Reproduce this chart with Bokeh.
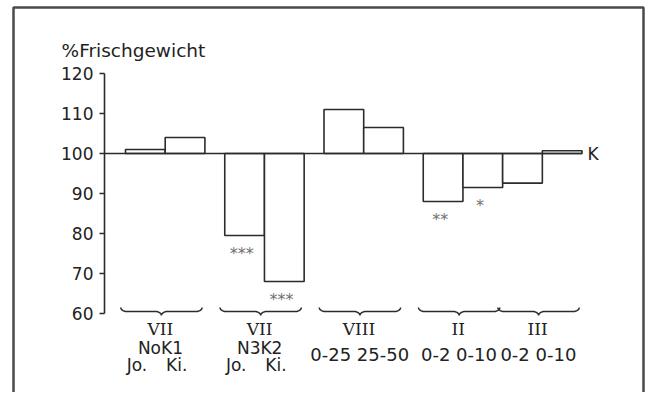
import numpy as np
from bokeh.plotting import figure
from bokeh.models import Range1d, FixedTicker
from bokeh.core.properties import value
from bokeh.embed import file_html
from bokeh.resources import INLINE

# ---------------- data ----------------
bar_values = [101, 104, 79.5, 68, 111, 106.5, 88, 91.5, 92.6, 100.7]
bar_group = [0, 0, 1, 1, 2, 2, 3, 3, 4, 4]
bar_sublabels = ["Jo.", "Ki.", "Jo.", "Ki.", "0-25", "25-50", "0-2", "0-10", "0-2", "0-10"]
significance = ["", "", "***", "***", "", "", "**", "*", "", ""]
group_numerals = ["VII", "VII", "VIII", "II", "III"]
group_treatments = ["NoK1", "N3K2", "", "", ""]
y_ticks = [60, 70, 80, 90, 100, 110, 120]
y_title = "%Frischgewicht"
control_value = 100
control_label = "K"

# ---------------- layout ----------------
W, H = 645, 392
px_per_x = 39.7
px_per_y = 4.0
x0_canvas = 125          # canvas x of data x = 0
yc_canvas = 153          # canvas y of the control value
group_gap = [0.0, 0.5, 0.5, 0.5, 0.0]

x_start = -x0_canvas / px_per_x
x_end = x_start + W / px_per_x
y_end = control_value + yc_canvas / px_per_y
y_start = y_end - H / px_per_y

# bar positions
lefts = []
offset = 0.0
prev_g = -1
for i, g in enumerate(bar_group):
    if g != prev_g:
        offset += group_gap[g]
        prev_g = g
    lefts.append(i + offset)
rights = [l + 1 for l in lefts]
bottoms = [min(v, control_value) for v in bar_values]
tops = [max(v, control_value) for v in bar_values]

axis_x = -0.53
ink = "#2b2b2b"
txt_col = "#222222"
font = value("DejaVu Sans")

p = figure(width=W, height=H, output_backend="svg", toolbar_location=None,
           x_range=Range1d(x_start, x_end), y_range=Range1d(y_start, y_end),
           min_border=0, outline_line_color=None, background_fill_color="white")
p.xaxis.visible = False
p.xgrid.grid_line_color = None
p.ygrid.grid_line_color = None

ax = p.yaxis[0]
ax.fixed_location = axis_x
ax.ticker = FixedTicker(ticks=y_ticks)
ax.bounds = (min(y_ticks), max(y_ticks))
ax.axis_line_color = ink
ax.axis_line_width = 1.6
ax.major_tick_line_color = ink
ax.major_tick_line_width = 1.6
ax.major_tick_out = 5
ax.major_tick_in = 0
ax.minor_tick_line_color = None
ax.major_label_standoff = 6
ax.major_label_text_font = "DejaVu Sans"
ax.major_label_text_font_size = "17px"
ax.major_label_text_color = txt_col

# outer frame (open at the bottom)
fl = x_start + 13 / px_per_x
fr = x_start + 643 / px_per_x
ft = y_end - 7 / px_per_y
p.line([fl, fl, fr, fr], [y_start - 2, ft, ft, y_start - 2], line_color="#4a4a4a", line_width=2.5)

# bars
p.quad(left=lefts, right=rights, bottom=bottoms, top=tops,
       fill_color="white", line_color=ink, line_width=1.6)

# control line
p.segment(x0=[axis_x], y0=[control_value], x1=[max(rights)], y1=[control_value],
          line_color=ink, line_width=1.6)
p.text(x=[max(rights) + 0.14], y=[control_value], text=[control_label],
       text_font=font, text_font_size="17px", text_align="left",
       text_baseline="middle", text_color=txt_col)

# title
p.text(x=[axis_x - 1.08], y=[control_value + 25.75], text=[y_title],
       text_font=font, text_font_size="18.5px", text_align="left",
       text_baseline="middle", text_color=txt_col)

# significance stars
sx, sy, st = [], [], []
for l, r, v, s in zip(lefts, rights, bar_values, significance):
    if s:
        sx.append((l + r) / 2 - 0.07)
        sy.append(v - 4.5)
        st.append(s)
p.text(x=sx, y=sy, text=st, text_font=font, text_font_size="16px",
       text_align="center", text_baseline="middle", text_color="#707070")

# braces
def brace(xa, xb, ymid=60.5, dy=1.0, r=0.15):
    xc = (xa + xb) / 2
    t = np.linspace(0, np.pi / 2, 8)
    x1 = xa + r - r * np.cos(t); y1 = ymid + dy - dy * np.sin(t)
    x2 = xc - r + r * np.sin(t); y2 = ymid - dy + dy * np.cos(t)
    x3 = xc + r - r * np.sin(t[::-1]); y3 = ymid - dy + dy * np.cos(t[::-1])
    x4 = (xb - r + r * np.cos(t))[::-1]; y4 = (ymid + dy - dy * np.sin(t))[::-1]
    return list(np.concatenate([x1, x2, x3, x4])), list(np.concatenate([y1, y2, y3, y4]))

bxs, bys = [], []
serif_x, serif_y, serif_t = [], [], []
sans_x, sans_y, sans_t = [], [], []
rng_x, rng_y, rng_t = [], [], []
for g in range(len(group_numerals)):
    idx = [i for i, gg in enumerate(bar_group) if gg == g]
    gl = lefts[idx[0]]; gr = rights[idx[-1]]
    xs, ys = brace(gl - 0.12, gr - 0.07)
    bxs.append(xs); bys.append(ys)
    gc = (gl + gr) / 2 - 0.12
    serif_x.append(gc); serif_y.append(56.1); serif_t.append(group_numerals[g])
    if group_treatments[g]:
        sans_x.append(gc); sans_y.append(51.5); sans_t.append(group_treatments[g])
        for i in idx:
            sans_x.append((lefts[i] + rights[i]) / 2 - 0.21)
            sans_y.append(47.25)
            sans_t.append(bar_sublabels[i])
    else:
        rng_x.append(gc + 0.02); rng_y.append(49.75)
        rng_t.append(" ".join(bar_sublabels[i] for i in idx))

p.multi_line(xs=bxs, ys=bys, line_color=ink, line_width=1.5)

p.text(x=serif_x, y=serif_y, text=serif_t, text_font=value("DejaVu Serif"),
       text_font_size="17px", text_align="center", text_baseline="middle", text_color=txt_col)
p.text(x=sans_x, y=sans_y, text=sans_t, text_font=font,
       text_font_size="17px", text_align="center", text_baseline="middle", text_color=txt_col)
p.text(x=rng_x, y=rng_y, text=rng_t, text_font=font,
       text_font_size="18px", text_align="center", text_baseline="middle", text_color=txt_col)

open("out.html", "w").write(file_html(p, INLINE))
